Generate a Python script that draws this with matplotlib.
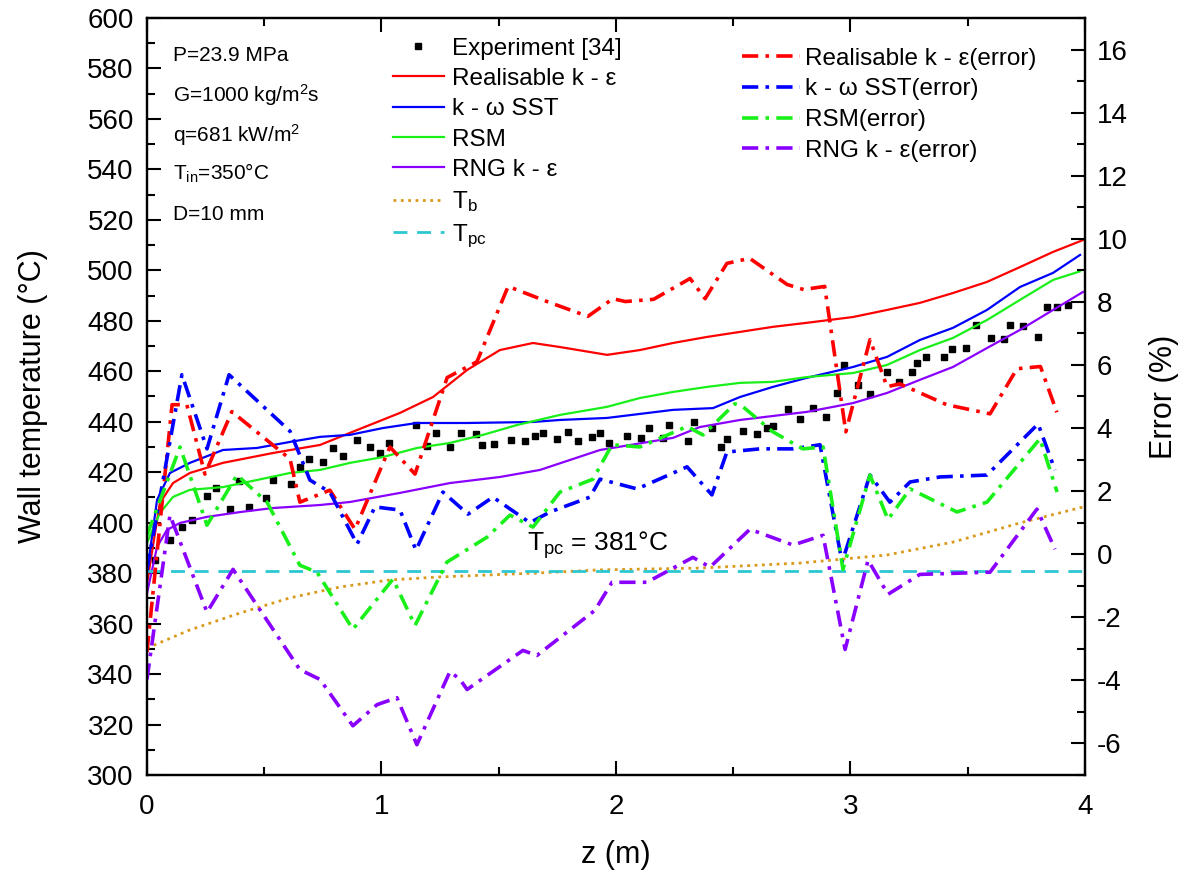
import matplotlib
matplotlib.use("Agg")
import matplotlib.pyplot as plt
from matplotlib.ticker import MultipleLocator

plt.rcParams['font.family'] = ['Liberation Sans', 'DejaVu Sans']
plt.rcParams['mathtext.fontset'] = 'custom'
plt.rcParams['mathtext.rm'] = 'Liberation Sans'
plt.rcParams['mathtext.it'] = 'Liberation Sans:italic'
plt.rcParams['axes.unicode_minus'] = False

# experiment [34]
z_exp = [0.034, 0.098, 0.149, 0.192, 0.256, 0.294, 0.354, 0.392, 0.435, 0.507,
         0.537, 0.614, 0.652, 0.691, 0.751, 0.793, 0.836, 0.896, 0.951, 0.994,
         1.032, 1.147, 1.194, 1.232, 1.292, 1.339, 1.403, 1.429, 1.480, 1.552,
         1.612, 1.655, 1.689, 1.748, 1.795, 1.838, 1.898, 1.932, 1.970, 2.047,
         2.107, 2.141, 2.200, 2.226, 2.307, 2.333, 2.409, 2.448, 2.473, 2.542,
         2.601, 2.644, 2.669, 2.733, 2.785, 2.840, 2.896, 2.942, 2.972, 3.032,
         3.083, 3.156, 3.207, 3.262, 3.284, 3.322, 3.399, 3.433, 3.493, 3.535,
         3.599, 3.655, 3.680, 3.736, 3.800, 3.838, 3.881, 3.928]
T_exp = [385.2, 393.1, 398.3, 401.1, 410.6, 413.8, 405.4, 416.5, 406.2, 409.8,
         416.9, 415.3, 422.1, 425.2, 424.1, 429.6, 426.4, 432.8, 430.0, 427.6,
         431.6, 438.7, 430.4, 435.6, 430.0, 435.6, 435.2, 430.8, 431.2, 432.8,
         432.4, 434.4, 435.6, 433.2, 436.0, 432.4, 434.0, 435.6, 431.6, 434.4,
         433.6, 437.5, 433.6, 438.7, 432.4, 439.9, 437.5, 430.0, 433.2, 436.3,
         435.2, 437.5, 438.3, 445.1, 441.1, 445.5, 441.9, 451.4, 462.5, 454.6,
         451.0, 459.7, 455.8, 459.7, 463.3, 465.7, 465.7, 468.8, 469.2, 478.4,
         473.2, 472.8, 478.4, 478.0, 473.6, 485.5, 485.5, 486.3]

# wall temperature, models
z_rke = [0.0, 0.055, 0.111, 0.183, 0.324, 0.537, 0.738, 0.866, 1.079, 1.22, 1.365,
         1.505, 1.646, 1.761, 1.962, 2.102, 2.243, 2.388, 2.529, 2.669, 2.814,
         3.011, 3.156, 3.296, 3.437, 3.582, 3.723, 3.864, 4.0]
T_rke = [376.0, 407.8, 415.7, 419.7, 423.7, 427.6, 430.8, 435.6, 443.5, 449.8, 460.5,
         468.4, 471.2, 469.6, 466.5, 468.4, 471.2, 473.6, 475.6, 477.6, 479.2,
         481.5, 484.3, 487.1, 491.0, 495.4, 501.3, 507.3, 512.3]

z_sst = [0.0, 0.043, 0.098, 0.183, 0.324, 0.469, 0.61, 0.738, 0.866, 1.006, 1.151,
         1.365, 1.646, 1.761, 1.962, 2.243, 2.414, 2.529, 2.669, 2.814, 3.011,
         3.156, 3.296, 3.437, 3.582, 3.723, 3.864, 3.979]
T_sst = [380.0, 409.0, 419.7, 423.7, 428.8, 429.6, 432.0, 434.0, 434.8, 437.5, 439.5,
         439.5, 439.9, 440.7, 441.5, 444.7, 445.4, 449.8, 453.8, 457.4, 461.7,
         465.7, 472.4, 477.2, 484.3, 493.4, 499.0, 506.1]

z_rsm = [0.0, 0.055, 0.111, 0.183, 0.324, 0.469, 0.61, 0.738, 0.866, 1.006, 1.151,
         1.292, 1.433, 1.578, 1.761, 1.962, 2.102, 2.243, 2.388, 2.529, 2.669,
         2.814, 3.011, 3.156, 3.296, 3.437, 3.582, 3.723, 3.864, 3.979]
T_rsm = [392.0, 403.8, 410.2, 413.0, 414.1, 416.9, 419.7, 420.9, 423.7, 426.0, 429.6,
         431.6, 434.8, 438.7, 442.7, 445.9, 449.4, 451.8, 453.8, 455.4, 455.8,
         457.7, 459.3, 462.5, 468.4, 473.2, 480.3, 488.3, 496.2, 499.6]

z_rng = [0.0, 0.043, 0.085, 0.141, 0.256, 0.397, 0.537, 0.738, 0.866, 1.079, 1.292,
         1.505, 1.676, 1.932, 2.243, 2.358, 2.529, 2.814, 3.011, 3.156, 3.296,
         3.437, 3.582, 3.723, 3.864, 3.991]
T_rng = [372.0, 390.4, 397.1, 399.9, 402.3, 404.2, 405.8, 407.0, 408.2, 411.8, 415.7,
         418.1, 420.9, 428.8, 433.6, 437.9, 440.7, 443.9, 447.4, 451.4, 456.6,
         461.7, 469.2, 476.4, 484.3, 491.4]

z_tb = [0.0, 0.183, 0.397, 0.61, 0.823, 1.036, 1.25, 1.676, 1.932, 2.358, 2.785,
        3.156, 3.437, 3.723, 4.0]
T_tb = [350.3, 357.5, 364.2, 370.2, 374.5, 377.3, 378.5, 380.1, 381.3, 382.0, 384.0,
        387.2, 392.3, 399.9, 406.4]

T_pc = 381

# error (%)
z_rke_err = [0.0, 0.107, 0.17, 0.247, 0.362, 0.61, 0.652, 0.78, 0.887, 1.036, 1.143,
             1.28, 1.407, 1.54, 1.706, 1.88, 1.987, 2.04, 2.16, 2.316, 2.38, 2.473,
             2.57, 2.73, 2.80, 2.89, 2.98, 3.083, 3.156, 3.21, 3.41, 3.595, 3.71,
             3.81, 3.88]
E_rke = [-3.1, 4.74, 4.74, 2.54, 4.52, 3.02, 1.65, 2.03, 0.79, 3.40, 2.54,
         5.6, 6.1, 8.49, 8.01, 7.54, 8.1, 8.01, 8.08, 8.74, 8.1, 9.22,
         9.38, 8.55, 8.39, 8.49, 3.88, 6.8, 5.31, 5.4, 4.74, 4.45, 5.88,
         5.95, 4.5]

z_sst_err = [0.0, 0.149, 0.256, 0.35, 0.61, 0.695, 0.78, 0.896, 0.972, 1.079, 1.147,
             1.262, 1.369, 1.475, 1.633, 1.719, 1.889, 1.932, 2.09, 2.303, 2.409,
             2.473, 2.614, 2.755, 2.87, 2.964, 3.083, 3.168, 3.254, 3.382, 3.582,
             3.80, 3.872]
E_sst = [-0.5, 5.69, 3.34, 5.69, 3.9, 2.35, 1.97, 0.32, 1.5, 1.4, 0.13,
         1.97, 1.27, 1.81, 1.0, 1.34, 1.81, 2.38, 2.07, 2.77, 1.88,
         3.24, 3.34, 3.34, 3.47, -0.25, 2.51, 1.65, 2.29, 2.45, 2.51,
         4.13, 2.67]

z_rsm_err = [0.0, 0.141, 0.256, 0.384, 0.512, 0.652, 0.725, 0.878, 1.049, 1.143,
             1.279, 1.45, 1.548, 1.646, 1.761, 1.902, 1.983, 2.102, 2.303, 2.371,
             2.507, 2.542, 2.669, 2.797, 2.883, 2.968, 3.083, 3.16, 3.254, 3.454,
             3.582, 3.808, 3.881]
E_rsm = [0.6, 3.40, 0.92, 2.51, 1.65, -0.35, -0.57, -2.38, -0.79, -2.26,
         -0.25, 0.54, 1.24, 0.86, 1.97, 2.38, 3.47, 3.40, 4.05, 3.78,
         4.77, 4.67, 3.88, 3.34, 3.40, -0.48, 2.51, 1.1, 2.07, 1.34,
         1.65, 3.66, 1.97]

z_rng_err = [0.0, 0.098, 0.256, 0.367, 0.652, 0.738, 0.878, 0.981, 1.066, 1.151,
             1.292, 1.335, 1.365, 1.603, 1.663, 1.91, 1.983, 2.132, 2.328, 2.401,
             2.571, 2.755, 2.883, 2.977, 3.075, 3.16, 3.296, 3.595, 3.795, 3.872]
E_rng = [-3.97, 1.24, -1.84, -0.48, -3.66, -3.97, -5.44, -4.77, -4.55, -6.04,
         -3.72, -3.97, -4.29, -3.05, -3.21, -1.78, -0.89, -0.89, -0.1, -0.41,
         0.79, 0.29, 0.6, -3.02, -0.19, -1.27, -0.64, -0.57, 1.43, 0.16]

red = '#ff0000'
blue = '#0000ff'
green = '#19f019'
purple = '#8a00ff'
dd = (0, (4.5, 2.0, 1.0, 2.0))

fig = plt.figure(figsize=(11.91, 8.81), dpi=100)
ax = fig.add_axes([0.1234, 0.1203, 0.7876, 0.8593])
ax2 = ax.twinx()

ax.plot(z_exp, T_exp, 's', color='black', markersize=4.5, label='Experiment [34]')
ax.plot(z_rke, T_rke, '-', color=red, lw=1.6, label='Realisable k - ε')
ax.plot(z_sst, T_sst, '-', color=blue, lw=1.6, label='k - ω SST')
ax.plot(z_rsm, T_rsm, '-', color=green, lw=1.6, label='RSM')
ax.plot(z_rng, T_rng, '-', color=purple, lw=1.6, label='RNG k - ε')
ax.plot(z_tb, T_tb, ':', color='#d99a1c', lw=2.0, label=r'T$_\mathregular{b}$')
ax.axhline(T_pc, color='#2cc8d2', lw=2.0, ls=(0, (5, 3.5)), label=r'T$_\mathregular{pc}$')

ax2.plot(z_rke_err, E_rke, color=red, lw=2.6, ls=dd, label='Realisable k - ε(error)')
ax2.plot(z_sst_err, E_sst, color=blue, lw=2.6, ls=dd, label='k - ω SST(error)')
ax2.plot(z_rsm_err, E_rsm, color=green, lw=2.6, ls=dd, label='RSM(error)')
ax2.plot(z_rng_err, E_rng, color=purple, lw=2.6, ls=dd, label='RNG k - ε(error)')

ax.set_xlim(0, 4)
ax.set_ylim(300, 600)
ax2.set_ylim(-7, 17)

ax.xaxis.set_major_locator(MultipleLocator(1))
ax.xaxis.set_minor_locator(MultipleLocator(0.5))
ax.yaxis.set_major_locator(MultipleLocator(20))
ax.yaxis.set_minor_locator(MultipleLocator(10))
ax2.yaxis.set_major_locator(MultipleLocator(2))
ax2.yaxis.set_minor_locator(MultipleLocator(1))

ax.tick_params(which='both', direction='in', top=True, right=False, labelsize=20, width=1.5)
ax.tick_params(which='major', length=10)
ax.tick_params(which='minor', length=6)
ax.tick_params(axis='y', which='both', pad=9.5)
ax.tick_params(axis='x', which='both', pad=14)
ax2.tick_params(which='both', direction='in', labelsize=20, width=1.5, pad=8.5)
ax2.tick_params(which='major', length=10)
ax2.tick_params(which='minor', length=6)
for a in (ax, ax2):
    for s in a.spines.values():
        s.set_linewidth(1.6)

ax.set_xlabel('z (m)', fontsize=22, labelpad=14)
ax.set_ylabel('Wall temperature (°C)', fontsize=22, labelpad=28)
ax2.set_ylabel('Error (%)', fontsize=22, labelpad=15)

# conditions
cond = ['P=23.9 MPa', r'G=1000 kg/m$^\mathregular{2}$s', r'q=681 kW/m$^\mathregular{2}$',
        r'T$_\mathregular{in}$=350°C', 'D=10 mm']
cond_y = [0.951, 0.898, 0.845, 0.795, 0.740]
for t, yy in zip(cond, cond_y):
    ax.text(0.028, yy, t, transform=ax.transAxes, fontsize=15, va='center')

ax.text(0.405, 0.304, r'T$_\mathregular{pc}$ = 381°C', transform=ax.transAxes,
        fontsize=19, va='center')

leg1 = ax.legend(loc='upper left', bbox_to_anchor=(0.262, 0.974), frameon=False,
                 fontsize=17.5, numpoints=1, handlelength=2.1, handletextpad=0.35,
                 labelspacing=0.34, borderpad=0, borderaxespad=0)
leg2 = ax2.legend(loc='upper left', bbox_to_anchor=(0.634, 0.961), frameon=False,
                  fontsize=17.5, handlelength=2.4, handletextpad=0.2,
                  labelspacing=0.36, borderpad=0, borderaxespad=0)

fig.savefig('out.png', dpi=100)
